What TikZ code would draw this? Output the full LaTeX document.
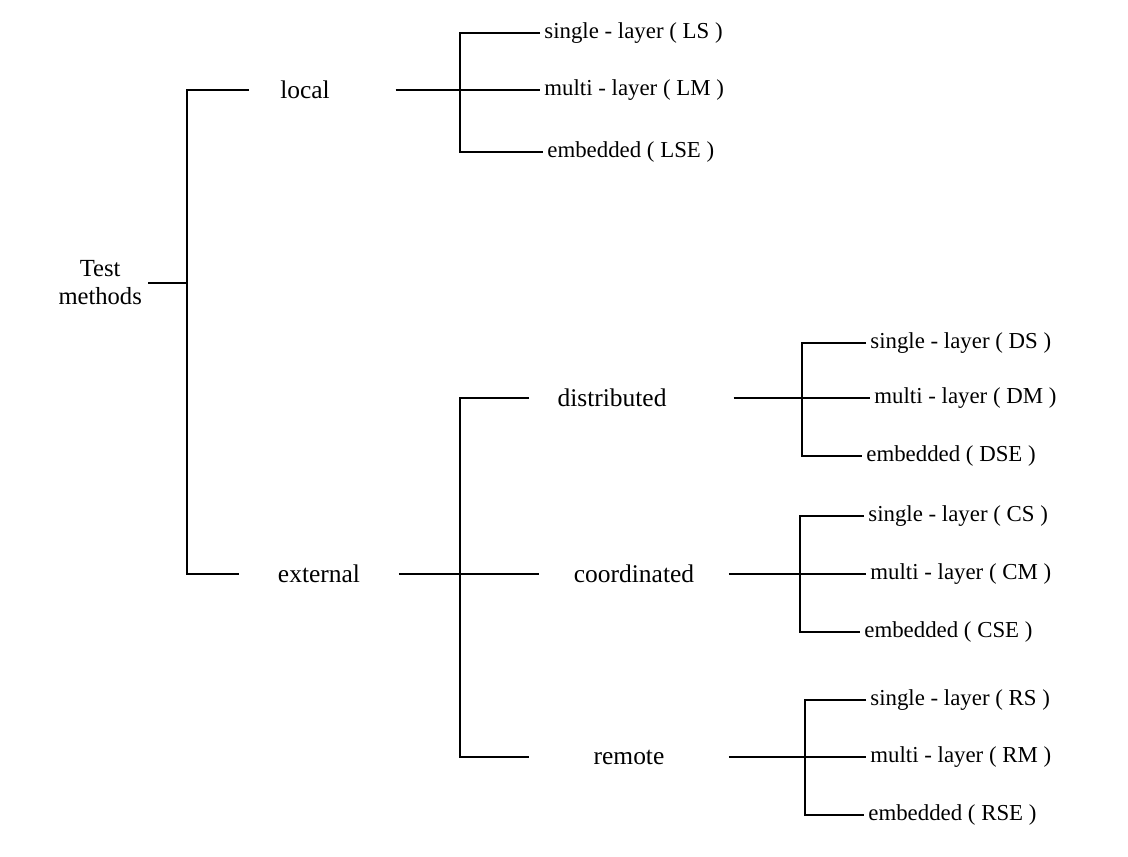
\documentclass[tikz,border=0pt]{standalone}
\usepackage{fontspec}
\setmainfont{Liberation Serif}
\usepackage{amsmath}
\usepackage{tikz}

\begin{document}
\begin{tikzpicture}[x=0.02cm, y=-0.02cm, line width=1pt,
        ramo/.style={inner sep=0pt, minimum height=0.5cm, font=\fontsize{14.5}{17}\selectfont},
        foglia/.style={anchor=west, inner sep=2pt, font=\fontsize{13}{15}\selectfont}]
        \useasboundingbox (0,0) rectangle (1128,856);

        % Nodi
        \node[align=center, anchor=east, inner sep=3pt, font=\fontsize{14}{16}\selectfont] (T) at (148,283) {Test\\methods};

        \node[ramo, minimum width=2.2cm] (L) at (305,90) {local};
        \node[ramo, minimum width=3.16cm] (E) at (319,574) {external};
        \node[ramo, minimum width=3.28cm] (D) at (612,398) {distributed};
        \node[ramo, minimum width=3.76cm] (C) at (634,574) {coordinated};
        \node[ramo, minimum width=3.96cm] (R) at (629,757) {remote};

        \node[foglia] (LS) at (540,33) {single - layer ( LS )};
        \node[foglia] (LM) at (540,90) {multi - layer ( LM )};
        \node[foglia] (LSE) at (543,152) {embedded ( LSE )};

        \node[foglia] (DS) at (866,343) {single - layer ( DS )};
        \node[foglia] (DM) at (870,398) {multi - layer ( DM )};
        \node[foglia] (DSE) at (862,456) {embedded ( DSE )};

        \node[foglia] (CS) at (864,516) {single - layer ( CS )};
        \node[foglia] (CM) at (866,574) {multi - layer ( CM )};
        \node[foglia] (CSE) at (860,632) {embedded ( CSE )};

        \node[foglia] (RS) at (866,700) {single - layer ( RS )};
        \node[foglia] (RM) at (866,757) {multi - layer ( RM )};
        \node[foglia] (RSE) at (864,815) {embedded ( RSE )};

        % Punti di giunzione
        \coordinate (j0) at (187,283);
        \coordinate (j1) at (460,90);
        \coordinate (j2) at (460,574);
        \coordinate (j3) at (802,398);
        \coordinate (j4) at (800,574);
        \coordinate (j5) at (805,757);

        % Archi
        \draw (T) -- (j0);
        \draw (L.west) -| (j0) |- (E.west);

        \draw ([xshift=19.8pt]L.east) -- (LM); % local
        \draw (LS.west) -| (j1) |- (LSE.west);

        \draw (E) -- (C); % external
        \draw (D.west) -| (j2) |- (R.west);

        \draw ([xshift=22pt]D.east) -- (DM);
        \draw (DS.west) -| (j3) |- (DSE.west);
        \draw (C) -- (CM);
        \draw (CS.west) -| (j4) |- (CSE.west);
        \draw (R) -- (RM);
        \draw (RS.west) -| (j5) |- (RSE.west);
\end{tikzpicture}
\end{document}
